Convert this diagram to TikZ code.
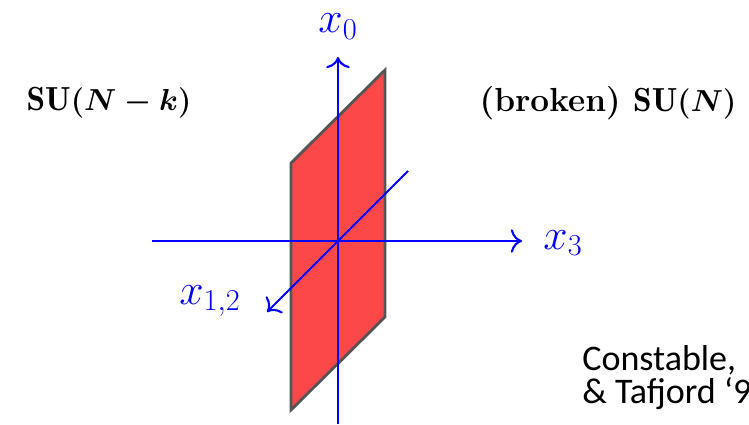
\documentclass[tikz,border=0pt]{standalone}
\usepackage{fontspec}
\usetikzlibrary{arrows.meta}
\newfontfamily\citefont{Carlito}
\definecolor{wallred}{RGB}{252,72,72}
\definecolor{wallgray}{RGB}{85,85,85}
\begin{document}
\begin{tikzpicture}[font=\fontsize{19}{23}\selectfont,
	axis/.style={-{To[scale=1.5]}, blue, line width=1.2pt},
	axislabel/.style={blue, font=\fontsize{27}{30}\selectfont},
	group/.style={font=\fontsize{19}{23}\selectfont\bfseries\boldmath}]
	\useasboundingbox (0,0) rectangle (14.98,8.48);

	% --- Domain wall ---
	\draw[fill=wallred, draw=wallgray, line width=1.6pt] (5.82,0.28) -- (7.70,2.14) -- (7.70,7.08) -- (5.82,5.22) -- cycle;

	% --- Axes ---
	\coordinate (O) at (6.76,3.66);
	\coordinate (bottom) at (6.76,0);
	\coordinate (top) at (6.76,7.34);
	\coordinate (left) at (3.04,3.66);
	\coordinate (right) at (10.44,3.66);
	\coordinate (back) at (8.16,5.06);
	\coordinate (front) at (5.34,2.24);
	\draw[axis] (bottom) -- (top);
	\draw[axis] (left) -- (right);
	\draw[axis] (back) -- (front);
	\node[axislabel] (x0) at (6.76,7.95) {$x_0$};
	\node[axislabel] (x3) at (11.26,3.62) {$x_3$};
	\node[axislabel] (x12) at (4.2,2.46) {$x_{1,2}$};

	% --- Phases ---
	\node[group] (unbroken) at (2.18,6.42) {$\mathrm{SU}(N-k)$};
	\node[group] (broken) at (12.16,6.42) {(broken) $\mathrm{SU}(N)$};

	% --- Reference ---
	\node[anchor=base west, inner sep=0, align=left, font=\fontsize{20.5}{17.1}\citefont] (cite) at (11.64,0.42) {Constable,\\\& Tafjord ‘9};
\end{tikzpicture}
\end{document}
